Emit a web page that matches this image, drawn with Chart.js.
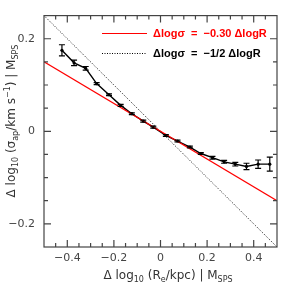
<!DOCTYPE html>
<html>
<head>
<meta charset="utf-8">
<script src="https://cdn.jsdelivr.net/npm/chart.js@4"></script>
<style>
  html, body { margin: 0; padding: 0; background: #fff; }
  #wrap { width: 291px; height: 291px; }
</style>
</head>
<body>
<div id="wrap"><canvas id="grafico"></canvas></div>
<script>
// datos
const binX = [-0.423, -0.371, -0.321, -0.274, -0.221, -0.171, -0.123, -0.074, -0.031, 0.023,
              0.073, 0.126, 0.173, 0.223, 0.273, 0.321, 0.369, 0.419, 0.469];
const binY = [0.175, 0.148, 0.136, 0.103, 0.079, 0.056, 0.038, 0.022, 0.009, -0.009,
              -0.021, -0.034, -0.048, -0.057, -0.066, -0.071, -0.076, -0.071, -0.071];
const binErr = [0.012, 0.006, 0.004, 0.002, 0.002, 0.002, 0.002, 0.002, 0.002, 0.002,
                0.002, 0.002, 0.002, 0.003, 0.003, 0.004, 0.007, 0.009, 0.015];

const lineX = [-0.5, 0.5];
const ajusteY = [0.15, -0.15];   // -0.30 dlogR
const mitadY = [0.25, -0.25];    // -1/2 dlogR

const xTicks = [-0.4, -0.2, 0, 0.2, 0.4];
const xTickLabels = ["\u22120.4", "\u22120.2", "0", "0.2", "0.4"];
const yTicks = [-0.2, 0, 0.2];
const yTickLabels = ["\u22120.2", "0", "0.2"];

const legendLabels = ["\u0394log\u03c3  =  \u22120.30 \u0394logR", "\u0394log\u03c3  =  \u22121/2 \u0394logR"];

const FONT = "'DejaVu Sans', sans-serif";
const FRAME = "#444";

function pares(xs, ys) { return xs.map((x, i) => ({ x: x, y: ys[i] })); }

// barras de error
const errorBars = {
    id: "errorBars",
    afterDatasetsDraw(chart) {
        const ctx = chart.ctx, sx = chart.scales.x, sy = chart.scales.y;
        ctx.save();
        ctx.strokeStyle = "#000";
        ctx.lineWidth = 1.2;
        binX.forEach((x, i) => {
            const px = sx.getPixelForValue(x);
            const y1 = sy.getPixelForValue(binY[i] + binErr[i]);
            const y2 = sy.getPixelForValue(binY[i] - binErr[i]);
            ctx.beginPath();
            ctx.moveTo(px, y1); ctx.lineTo(px, y2);
            ctx.moveTo(px - 3, y1); ctx.lineTo(px + 3, y1);
            ctx.moveTo(px - 3, y2); ctx.lineTo(px + 3, y2);
            ctx.stroke();
        });
        ctx.restore();
    }
};

// marco con ticks hacia adentro
const marco = {
    id: "marco",
    afterDraw(chart) {
        const ctx = chart.ctx, a = chart.chartArea, sx = chart.scales.x, sy = chart.scales.y;
        ctx.save();
        ctx.strokeStyle = FRAME;
        ctx.lineWidth = 1.2;
        ctx.strokeRect(a.left, a.top, a.right - a.left, a.bottom - a.top);
        ctx.beginPath();
        for (let k = -10; k <= 10; k++) {
            const v = k * 0.05;
            const major = k % 4 === 0;
            const len = major ? 7 : 4;
            const px = sx.getPixelForValue(v);
            if (px > a.left + 1 && px < a.right - 1) {
                ctx.moveTo(px, a.bottom); ctx.lineTo(px, a.bottom - len);
                ctx.moveTo(px, a.top); ctx.lineTo(px, a.top + len);
            }
            if (k >= -5 && k <= 5) {
                const py = sy.getPixelForValue(v);
                if (py > a.top + 1 && py < a.bottom - 1) {
                    ctx.moveTo(a.left, py); ctx.lineTo(a.left + len, py);
                    ctx.moveTo(a.right, py); ctx.lineTo(a.right - len, py);
                }
            }
        }
        ctx.stroke();
        ctx.restore();
    }
};

// texto con subindices
function textoRico(ctx, partes, x, y) {
    let cx = x;
    partes.forEach(p => {
        ctx.font = p[1] + "px " + FONT;
        ctx.fillText(p[0], cx, y + p[2]);
        cx += ctx.measureText(p[0]).width;
    });
    return cx - x;
}
function anchoRico(ctx, partes) {
    let w = 0;
    partes.forEach(p => { ctx.font = p[1] + "px " + FONT; w += ctx.measureText(p[0]).width; });
    return w;
}

const tituloX = [["\u0394 log", 12, 0], ["10", 8, 3], [" (R", 12, 0], ["e", 8, 3], ["/kpc) | M", 12, 0], ["SPS", 8, 3]];
const tituloY = [["\u0394 log", 12, 0], ["10", 8, 3], [" (\u03c3", 12, 0], ["ap", 8, 3], ["/km s", 12, 0], ["\u22121", 8, -5], [") | M", 12, 0], ["SPS", 8, 3]];

const textos = {
    id: "textos",
    afterDraw(chart) {
        const ctx = chart.ctx;
        ctx.save();
        ctx.fillStyle = "#333";
        ctx.textBaseline = "alphabetic";
        ctx.textAlign = "left";
        const wx = anchoRico(ctx, tituloX);
        textoRico(ctx, tituloX, 168 - wx / 2, 279);
        ctx.save();
        ctx.translate(15, 121);
        ctx.rotate(-Math.PI / 2);
        const wy = anchoRico(ctx, tituloY);
        textoRico(ctx, tituloY, -wy / 2, 0);
        ctx.restore();

        // leyenda
        ctx.font = "bold 11px 'Liberation Sans', sans-serif";
        ctx.textBaseline = "middle";
        ctx.strokeStyle = "#f00";
        ctx.lineWidth = 1.2;
        ctx.beginPath(); ctx.moveTo(102, 33.5); ctx.lineTo(147, 33.5); ctx.stroke();
        ctx.fillStyle = "#f00";
        ctx.fillText(legendLabels[0], 153, 33.5);
        ctx.strokeStyle = "#000";
        ctx.lineWidth = 1;
        ctx.setLineDash([1, 1.5]);
        ctx.beginPath(); ctx.moveTo(102, 53.5); ctx.lineTo(147, 53.5); ctx.stroke();
        ctx.setLineDash([]);
        ctx.fillStyle = "#000";
        ctx.fillText(legendLabels[1], 153, 53.5);
        ctx.restore();
    }
};

new Chart(document.getElementById("grafico"), {
    type: "scatter",
    data: {
        datasets: [
            { data: pares(lineX, ajusteY), showLine: true, borderColor: "#f00", borderWidth: 1.2, pointRadius: 0 },
            { data: pares(lineX, mitadY), showLine: true, borderColor: "#000", borderWidth: 0.9, borderDash: [1, 1.5], pointRadius: 0 },
            { data: pares(binX, binY), showLine: true, borderColor: "#000", borderWidth: 1.4,
              pointRadius: 1.6, pointBackgroundColor: "#000", pointBorderWidth: 0 }
        ]
    },
    options: {
        responsive: true,
        maintainAspectRatio: false,
        animation: false,
        layout: { padding: { left: 0, top: 15, right: 14, bottom: 0 } },
        plugins: { legend: { display: false }, tooltip: { enabled: false } },
        scales: {
            x: {
                type: "linear", min: -0.5, max: 0.5,
                grid: { display: false, drawTicks: false },
                border: { display: false },
                afterBuildTicks: s => { s.ticks = xTicks.map(v => ({ value: v })); },
                afterFit: s => { s.height = 44; },
                ticks: {
                    autoSkip: false, maxRotation: 0, padding: 5, color: "#444",
                    font: { family: FONT, size: 11 },
                    callback: v => xTickLabels[xTicks.indexOf(v)]
                }
            },
            y: {
                type: "linear", min: -0.25, max: 0.25,
                grid: { display: false, drawTicks: false },
                border: { display: false },
                afterBuildTicks: s => { s.ticks = yTicks.map(v => ({ value: v })); },
                afterFit: s => { s.width = 44; },
                ticks: {
                    autoSkip: false, padding: 9, color: "#444",
                    font: { family: FONT, size: 11 },
                    callback: v => yTickLabels[yTicks.indexOf(v)]
                }
            }
        }
    },
    plugins: [errorBars, marco, textos]
});
</script>
</body>
</html>
